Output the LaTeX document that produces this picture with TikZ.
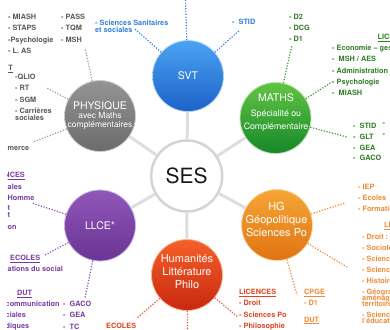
\documentclass[tikz,border=0pt]{standalone}
\usepackage{fontspec}
\setmainfont{TeX Gyre Heros}
\definecolor{svtTop}{HTML}{4AA3F2}
\definecolor{svtBot}{HTML}{1D62C9}
\definecolor{svtLbl}{HTML}{2F7FDC}
\definecolor{mathTop}{HTML}{62C443}
\definecolor{mathBot}{HTML}{16882A}
\definecolor{mathLbl}{HTML}{2F7D24}
\definecolor{mathDot}{HTML}{3A9A32}
\definecolor{physTop}{HTML}{949494}
\definecolor{physBot}{HTML}{6B6B6B}
\definecolor{physLbl}{HTML}{585858}
\definecolor{physDot}{HTML}{9A9A9A}
\definecolor{llceTop}{HTML}{9058B8}
\definecolor{llceBot}{HTML}{6A3494}
\definecolor{llceLbl}{HTML}{7A3CA3}
\definecolor{llceDot}{HTML}{8A4DB5}
\definecolor{hgTop}{HTML}{F6A536}
\definecolor{hgBot}{HTML}{E07412}
\definecolor{hgLbl}{HTML}{F08A35}
\definecolor{hgDot}{HTML}{F0883A}
\definecolor{humTop}{HTML}{F5602A}
\definecolor{humBot}{HTML}{C9280E}
\definecolor{humLbl}{HTML}{E0431E}
\definecolor{humDot}{HTML}{E4502A}
\definecolor{spokeGray}{HTML}{DEDEDE}
\definecolor{sesGray}{HTML}{D4D4D4}
\begin{document}
\begin{tikzpicture}[x=1pt,y=-1pt,
  lbl/.style={inner sep=0pt, font=\fontsize{7.3}{11.1}\selectfont\bfseries, align=left, anchor=north west,
    execute at begin node={\rule{0pt}{5.5pt}}},
  bubble/.style={circle, minimum size=71pt, inner sep=0pt, line width=0.8pt},
  ctext/.style={text=white, align=center, inner sep=0pt},
  spoke/.style={draw=spokeGray, line width=3pt},
  dots/.style={line width=1.2pt, dash pattern=on 1.2pt off 1.6pt},
]
\useasboundingbox (0,0) rectangle (390,329);
\clip (7.5,0) rectangle (390,329);

% circles
\node[bubble, draw=sesGray, line width=2.5pt, fill=white] (ses) at (186.7,176) {};
\node[bubble, top color=svtTop, bottom color=svtBot, draw=svtTop!45!white] (svt) at (188,76) {};
\node[bubble, top color=mathTop, bottom color=mathBot, draw=mathTop!45!white] (maths) at (275.5,118) {};
\node[bubble, top color=physTop, bottom color=physBot, draw=physTop!45!white] (phys) at (100,116) {};
\node[bubble, top color=llceTop, bottom color=llceBot, draw=llceTop!45!white] (llce) at (100,225.5) {};
\node[bubble, top color=hgTop, bottom color=hgBot, draw=hgTop!45!white] (hg) at (277,225) {};
\node[bubble, top color=humTop, bottom color=humBot, draw=humTop!45!white] (hum) at (187,275) {};

% circle texts
\node[inner sep=0pt, font=\fontsize{21}{21}\selectfont, text=black!90] (sesT) at (186.7,175.5) {SES};
\node[ctext, font=\fontsize{10.5}{12}\selectfont] (svtT) at (188,75.5) {SVT};
\node[ctext, font=\fontsize{8.5}{8.6}\selectfont] (physT) at (100,115.5) {{\fontsize{10.5}{10.5}\selectfont PHYSIQUE}\\avec Maths\\complémentaires};
\node[ctext, font=\fontsize{8.8}{12.8}\selectfont] (mathsT) at (276,112.5) {{\fontsize{10.5}{10.5}\selectfont MATHS}\\[1.5pt]Spécialité ou\\Complémentaire};
\node[ctext, font=\fontsize{10.5}{12}\selectfont] (llceT) at (100,226) {LLCE*};
\node[ctext, font=\fontsize{11}{13}\selectfont] (hgT) at (276.5,219) {HG\\Géopolitique\\Sciences Po};
\node[ctext, font=\fontsize{11}{13}\selectfont] (humT) at (187,272) {Humanités\\Littérature\\Philo};

% spokes
\foreach \n in {svt,maths,phys,llce,hg,hum} \draw[spoke] (ses) -- (\n);

% free ends of dotted connectors
\coordinate (gc1) at (85,48);
\coordinate (gc2) at (47,88);
\coordinate (gc3) at (33,142);
\coordinate (bc1) at (135,29);
\coordinate (bc2) at (185.5,0);
\coordinate (bc3) at (240,30);
\coordinate (mc1) at (292,45);
\coordinate (mc2) at (332,82);
\coordinate (mc3) at (347,137);
\coordinate (oc1) at (345,203);
\coordinate (oc2) at (347,267);
\coordinate (oc3) at (297,295);
\coordinate (rc1) at (238,317);
\coordinate (rc2) at (187.5,330);
\coordinate (rc3) at (137,318);
\coordinate (pc1) at (32,203);
\coordinate (pc2) at (45,255);
\coordinate (pc3) at (85,298);

\foreach \c in {gc1,gc2,gc3} \draw[dots, draw=physDot] (phys) -- (\c);
\foreach \c in {bc1,bc2,bc3} \draw[dots, draw=svtLbl] (svt) -- (\c);
\foreach \c in {mc1,mc2,mc3} \draw[dots, draw=mathDot] (maths) -- (\c);
\foreach \c in {oc1,oc2,oc3} \draw[dots, draw=hgDot] (hg) -- (\c);
\foreach \c in {rc1,rc2,rc3} \draw[dots, draw=humDot] (hum) -- (\c);
\foreach \c in {pc1,pc2,pc3} \draw[dots, draw=llceDot] (llce) -- (\c);

% PHYSIQUE labels
\node[lbl, text=physLbl] (g1) at (8,14.2) {- MIASH\\- STAPS\\-Psychologie\\- L. AS};
\node[lbl, text=physLbl] (g2) at (61,14.2) {- PASS\\- TQM\\- MSH};
\node[lbl, text=physLbl] (g3) at (8.3,65.2) {\underline{T}};
\node[lbl, text=physLbl] (g4) at (15,74.2) {-QLIO\\- RT\\- SGM\\- Carrières\\[-3.6pt]sociales};
\node[lbl, text=physLbl] (g5) at (7.5,144.8) {merce};

% SVT labels
\node[lbl, text=svtLbl] (b1) at (95,19.9) {- Sciences Sanitaires\\[-4.6pt]et sociales};
\node[lbl, text=svtLbl] (b2) at (232,19.2) {-\ \ STID};

% MATHS labels
\node[lbl, text=mathLbl] (m1) at (289,14.2) {- D2\\- DCG\\- D1};
\node[lbl, text=mathLbl] (m2) at (377.5,34.2) {\underline{LICENCES}};
\node[lbl, text=mathLbl] (m3) at (332,45.2) {- Economie – gestion\\-\ \ MSH / AES\\- Administration\\- Psychologie\\-\ \ MIASH};
\node[lbl, text=mathLbl, font=\fontsize{7.3}{10.7}\selectfont\bfseries] (m4) at (353,123.2) {-\ \ STID\\-\ \ GLT\\-\ \ GEA\\-\ \ GACO};
\node[lbl, text=mathLbl, font=\fontsize{7.3}{10.7}\selectfont\bfseries] (m5) at (382.5,123.2) {-\\-};

% HG labels
\node[lbl, text=hgLbl] (o1) at (358,184.2) {- IEP\\- Ecoles\\- Formations};
\node[lbl, text=hgLbl] (o2) at (384,222.2) {\underline{LICENCES}};
\node[lbl, text=hgLbl, font=\fontsize{7.3}{11}\selectfont\bfseries] (o3) at (362,234.2) {- Droit :\\- Sociologie\\- Sciences\\- Sciences\\- Histoire\\- Géographie\\[-5pt]aménagement\\[-5pt]territoire\\- Sciences de\\[-5pt]l'éducation};
\node[lbl, text=hgLbl] (o4) at (304,289.2) {\underline{CPGE}\\- D1\\[5pt]\underline{DUT}};

% Humanites labels
\node[lbl, text=humLbl] (r1) at (239,289.2) {\underline{LICENCES}\\- Droit\\- Sciences Po\\- Philosophie};
\node[lbl, text=humLbl] (r2) at (106,323.2) {\underline{ECOLES}};

% LLCE labels
\node[lbl, text=llceLbl, anchor=north east] (p1) at (25,172.2) {\underline{LICENCES}};
\node[lbl, text=llceLbl] (p2) at (7.5,184) {ales};
\node[lbl, text=llceLbl] (p3) at (7.5,195.2) {Homme};
\node[lbl, text=llceLbl] (p4) at (7.5,205) {t};
\node[lbl, text=llceLbl] (p5) at (7.5,212) {t};
\node[lbl, text=llceLbl] (p6) at (7.5,223.5) {on};
\node[lbl, text=llceLbl] (p7) at (10,255.2) {\underline{ECOLES}};
\node[lbl, text=llceLbl] (p8) at (7.5,266) {ations du social};
\node[lbl, text=llceLbl] (p9) at (17,290.2) {\underline{DUT}};
\node[lbl, text=llceLbl] (p10) at (5.5,301) {communication\\ciales\\diques};
\node[lbl, text=llceLbl] (p11) at (63,301.2) {-\ \ GACO\\-\ \ GEA\\-\ \ TC};
\end{tikzpicture}
\end{document}
